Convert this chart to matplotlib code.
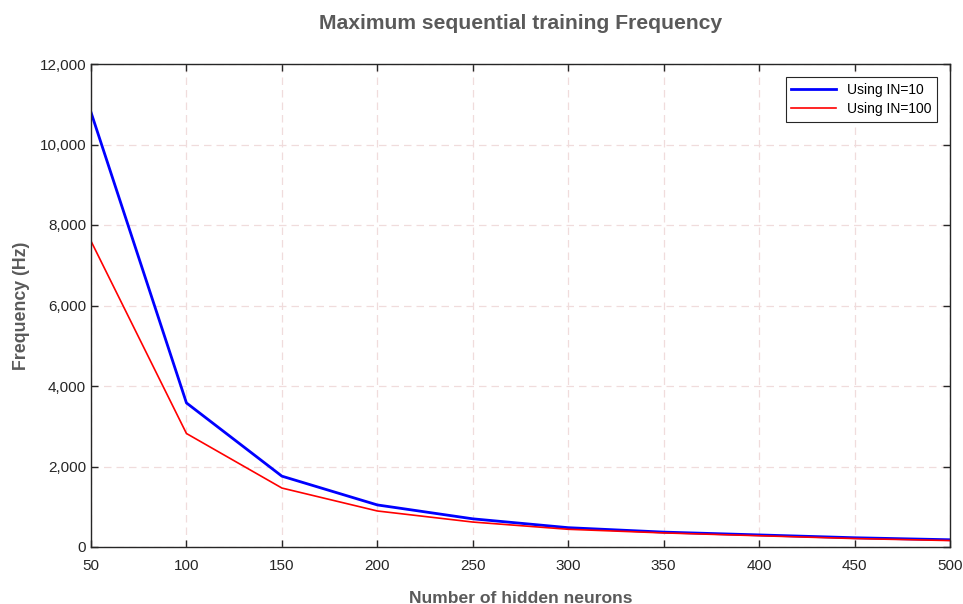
import matplotlib
matplotlib.use("Agg")
import matplotlib.pyplot as plt
from matplotlib.ticker import FuncFormatter

plt.rcParams['font.family'] = ['Liberation Sans', 'DejaVu Sans']

neurons = [50, 100, 150, 200, 250, 300, 350, 400, 450, 500]
freq_in10 = [10800, 3580, 1760, 1045, 700, 480, 370, 300, 230, 180]
freq_in100 = [7600, 2820, 1465, 895, 620, 440, 350, 280, 210, 160]
xticks = [50, 100, 150, 200, 250, 300, 350, 400, 450, 500]
yticks = [0, 2000, 4000, 6000, 8000, 10000, 12000]

fig = plt.figure(figsize=(9.63, 6.04), dpi=100)
ax = fig.add_axes([91/963, 1-547/604, (950-91)/963, (547-64)/604])

ax.plot(neurons, freq_in10, color='#0000ff', lw=2.0, label='Using IN=10')
ax.plot(neurons, freq_in100, color='#ff0000', lw=1.2, label='Using IN=100')

ax.set_xlim(50, 500)
ax.set_ylim(0, 12000)
ax.set_xticks(xticks)
ax.set_yticks(yticks)
ax.yaxis.set_major_formatter(FuncFormatter(lambda v, p: f"{int(v):,}"))
ax.tick_params(direction='in', top=True, right=True, length=5, width=1,
               labelsize=11, labelcolor='#262626', color='#262626')
ax.tick_params(axis='x', pad=9)
for s in ax.spines.values():
    s.set_color('#262626')
    s.set_linewidth(1.0)
ax.grid(True, color='#f0dcdc', linestyle=(0, (6, 4)), linewidth=0.9)
ax.set_axisbelow(True)

ax.set_xlabel('Number of hidden neurons', fontsize=12.6, fontweight='bold', color='#5a5a5a', labelpad=12.5)
ax.set_ylabel('Frequency (Hz)', fontsize=12.8, fontweight='bold', color='#5a5a5a', labelpad=7)
ax.set_title('Maximum sequential training Frequency', fontsize=15.2, fontweight='bold', color='#5a5a5a', pad=25)

leg = ax.legend(loc='upper right', fontsize=10, frameon=True, fancybox=False,
                edgecolor='#262626', borderaxespad=0.95, handlelength=3.2,
                borderpad=0.4, labelspacing=0.4, framealpha=1)
leg.get_frame().set_linewidth(0.8)

fig.savefig('out.png', dpi=100)
